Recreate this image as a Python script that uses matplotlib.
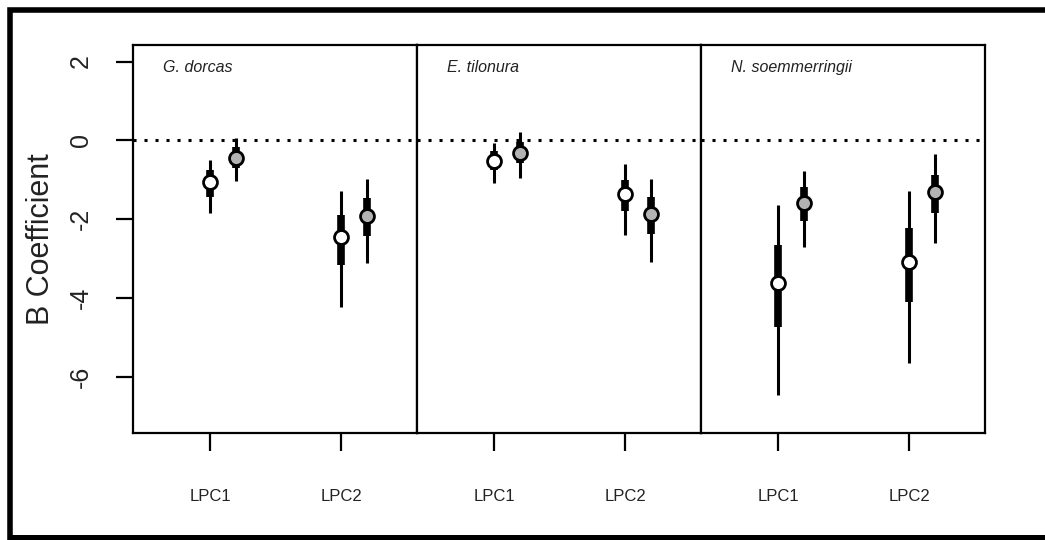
import matplotlib.pyplot as plt
from matplotlib.patches import Rectangle

plt.rcParams['font.family'] = ['Liberation Sans', 'DejaVu Sans']

species = ['G. dorcas', 'E. tilonura', 'N. soemmerringii']
predictors = ['LPC1', 'LPC2']

# white points (per species: LPC1, LPC2)
white_med = [[-1.06, -2.46], [-0.52, -1.37], [-3.62, -3.09]]
white_in_hi = [[-0.75, -1.89], [-0.28, -1.00], [-2.65, -2.23]]
white_in_lo = [[-1.43, -3.16], [-0.75, -1.78], [-4.73, -4.09]]
white_out_hi = [[-0.49, -1.28], [-0.07, -0.60], [-1.64, -1.28]]
white_out_lo = [[-1.85, -4.22], [-1.09, -2.40], [-6.46, -5.64]]

# grey points
grey_med = [[-0.45, -1.91], [-0.31, -1.87], [-1.58, -1.32]]
grey_in_hi = [[-0.16, -1.45], [-0.03, -1.43], [-1.19, -0.88]]
grey_in_lo = [[-0.71, -2.42], [-0.58, -2.37], [-2.04, -1.85]]
grey_out_hi = [[0.05, -0.98], [0.22, -0.98], [-0.77, -0.35]]
grey_out_lo = [[-1.02, -3.10], [-0.96, -3.08], [-2.71, -2.61]]

W, H = 1045, 540
fig = plt.figure(figsize=(W / 100, H / 100), dpi=100)

left, right, top, bottom = 133, 985, 45, 433
pw = (right - left) / 3

groups = [
    (0.0, white_med, white_in_hi, white_in_lo, white_out_hi, white_out_lo, 'white'),
    (0.2, grey_med, grey_in_hi, grey_in_lo, grey_out_hi, grey_out_lo, '#b3b3b3'),
]

for s in range(3):
    ax = fig.add_axes([(left + s * pw) / W, 1 - bottom / H, pw / W, (bottom - top) / H])
    ax.set_xlim(0.412, 2.58)
    ax.set_ylim(-7.42, 2.42)
    ax.axhline(0, color='black', lw=2.2, ls=(0, (1, 2.6)), dash_capstyle='butt')
    for off, med, ihi, ilo, ohi, olo, fc in groups:
        for p in range(2):
            x = p + 1 + off
            ax.plot([x, x], [olo[s][p], ohi[s][p]], color='black', lw=2.2, solid_capstyle='butt')
            ax.plot([x, x], [ilo[s][p], ihi[s][p]], color='black', lw=5.5, solid_capstyle='butt')
            ax.plot(x, med[s][p], 'o', ms=10, mfc=fc, mec='black', mew=2)
    ax.text(0.106, 0.943, species[s], transform=ax.transAxes, style='italic',
            fontsize=11.5, va='center', ha='left', color='#222222')
    ax.set_xticks([1, 2])
    ax.set_xticklabels(predictors, fontsize=12, color='#222222')
    ax.tick_params(axis='x', length=13, width=1.6, pad=27)
    for sp in ax.spines.values():
        sp.set_linewidth(1.6)
    if s == 0:
        ax.set_yticks([-6, -4, -2, 0, 2])
        ax.set_yticklabels(['-6', '-4', '-2', '0', '2'], rotation=90, va='center',
                           fontsize=18, color='#222222')
        ax.tick_params(axis='y', length=12, width=1.6, pad=17)
        ax.set_ylabel('B Coefficient', fontsize=22, color='#222222')
        ax.yaxis.set_label_coords(-(133 - 56) / pw, 0.5)
    else:
        ax.set_yticks([])

# outer border
fig.patches.append(Rectangle((9.5 / W, -0.01), 1.05, 1 - 9.5 / H + 0.01,
                             transform=fig.transFigure, fill=False, lw=4, ec='black'))
fig.patches.append(Rectangle((9.5 / W, 2.5 / H), 1.05, 0, transform=fig.transFigure,
                             fill=False, lw=4, ec='black'))

fig.savefig('out.png', dpi=100)
